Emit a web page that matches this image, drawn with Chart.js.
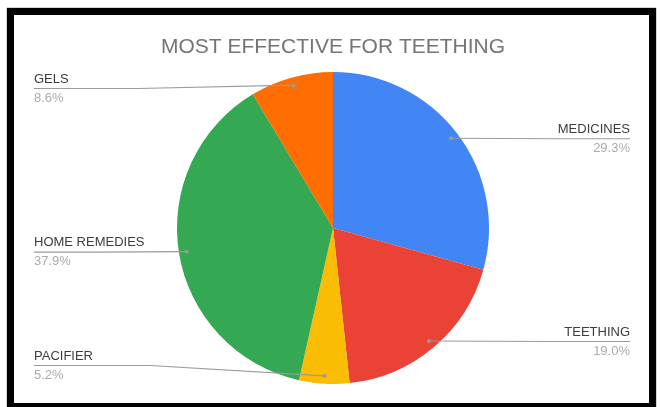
<!DOCTYPE html>
<html>
<head>
<meta charset="utf-8">
<title>Most effective for teething</title>
<script src="https://cdn.jsdelivr.net/npm/chart.js@4.4.0/dist/chart.umd.min.js"></script>
<style>
  html, body { margin: 0; padding: 0; background: #fff; }
  #wrap { position: relative; width: 661px; height: 407px; overflow: hidden; }
  #chart-box { position: absolute; left: 0; top: 0; width: 661px; height: 407px; }
  #frame {
    position: absolute; left: 7px; top: 8px; width: 649px; height: 402px;
    box-sizing: border-box; border: 7px solid #000; pointer-events: none;
    box-shadow: 0 0 1px #000;
  }
</style>
</head>
<body>
<div id="wrap">
  <div id="chart-box"><canvas id="chart1"></canvas></div>
  <div id="frame"></div>
</div>
<script>
"use strict";

var categories = ["MEDICINES", "TEETHING", "PACIFIER", "HOME REMEDIES", "GELS"];
var shares = [29.3, 19.0, 5.2, 37.9, 8.6];
var sliceColors = ["#4285F4", "#EA4335", "#FBBC04", "#34A853", "#FF6D01"];

// callout labels: leader line from inside the slice out to the name + percent
var calloutLabels = {
  id: "calloutLabels",
  afterDatasetsDraw: function(chart) {
    var ctx = chart.ctx;
    var area = chart.chartArea;
    var meta = chart.getDatasetMeta(0);
    var total = shares.reduce(function(a, b) { return a + b; }, 0);

    ctx.save();
    meta.data.forEach(function(arc, i) {
      var mid = (arc.startAngle + arc.endAngle) / 2;
      var r = arc.outerRadius * 0.95;
      var px = arc.x + Math.cos(mid) * r;
      var py = arc.y + Math.sin(mid) * r;
      var right = Math.cos(mid) >= 0;
      var tx = right ? area.right - 31 : area.left + 29;
      var ly = Math.min(Math.max(py, area.top + 16), area.bottom - 19);
      var knee = tx + (px - tx) * 0.4;

      ctx.strokeStyle = "#9a9a9a";
      ctx.lineWidth = 1.2;
      ctx.beginPath();
      ctx.moveTo(tx, ly + 0.5);
      ctx.lineTo(knee, ly + 0.5);
      ctx.lineTo(px, py);
      ctx.stroke();

      ctx.fillStyle = "#9a9a9a";
      ctx.beginPath();
      ctx.arc(px, py, 2, 0, Math.PI * 2);
      ctx.fill();

      ctx.textAlign = right ? "right" : "left";
      ctx.textBaseline = "middle";
      ctx.font = "13px 'Liberation Sans', Arial, sans-serif";
      ctx.fillStyle = "#3c3c3c";
      ctx.fillText(categories[i], tx, ly - 9);
      ctx.fillStyle = "#ababab";
      ctx.fillText((shares[i] / total * 100).toFixed(1) + "%", tx, ly + 10);
    });
    ctx.restore();
  }
};

function chart1() {
  var ctx = document.getElementById("chart1");
  new Chart(ctx, {
    type: "pie",
    data: {
      labels: categories,
      datasets: [
        {
          data: shares,
          backgroundColor: sliceColors,
          borderWidth: 0,
          hoverOffset: 0
        }
      ]
    },
    options: {
      responsive: true,
      maintainAspectRatio: false,
      animation: false,
      events: [],
      layout: {
        padding: { top: 35, bottom: 23, left: 5, right: 0 }
      },
      plugins: {
        legend: { display: false },
        tooltip: { enabled: false },
        title: {
          display: true,
          text: "MOST EFFECTIVE FOR TEETHING",
          color: "#757575",
          font: { family: "'Liberation Sans', Arial, sans-serif", size: 21, weight: "normal", lineHeight: 1.2 },
          padding: { top: 0, bottom: 11.8 }
        }
      }
    },
    plugins: [calloutLabels]
  });
}

chart1();
</script>
</body>
</html>
